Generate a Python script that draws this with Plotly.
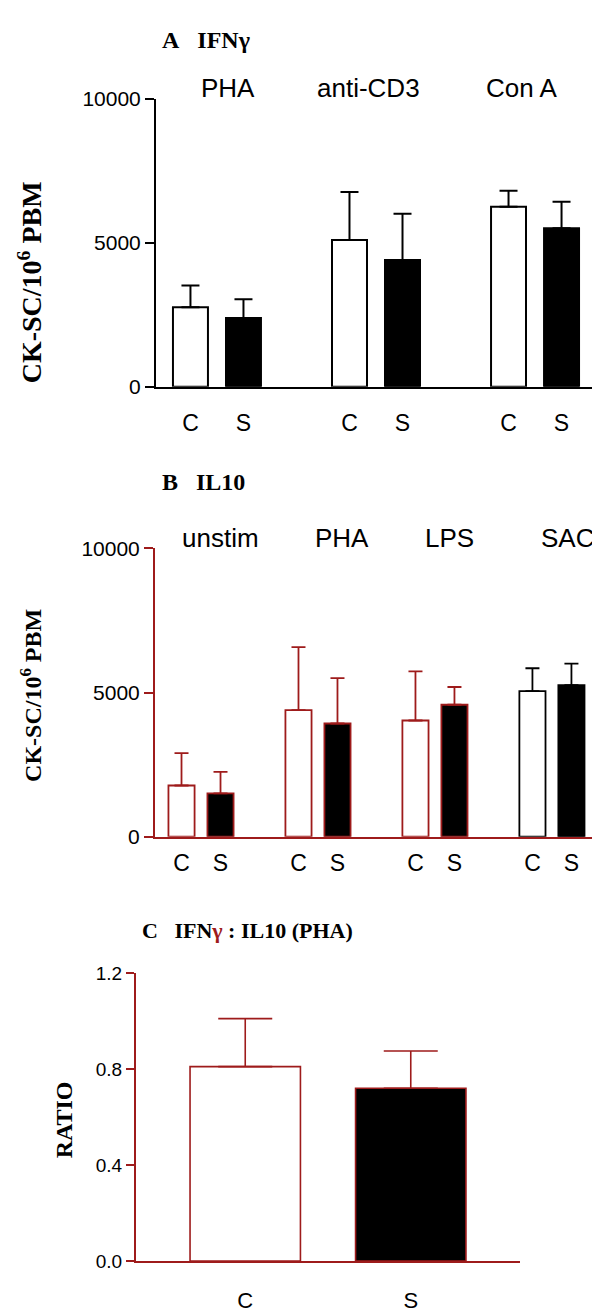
import plotly.graph_objects as go

# ---------------- data ----------------
bar_labels = ["C", "S"]

a_groups = ["PHA", "anti-CD3", "Con A"]
a_ctrl_mean = [2760, 5090, 6250]
a_ctrl_sem = [750, 1670, 550]
a_scz_mean = [2390, 4400, 5500]
a_scz_sem = [650, 1600, 920]

b_groups = ["unstim", "PHA", "LPS", "SAC"]
b_ctrl_mean = [1775, 4390, 4030, 5050]
b_ctrl_sem = [1125, 2180, 1700, 790]
b_scz_mean = [1500, 3925, 4575, 5255]
b_scz_sem = [750, 1570, 615, 745]

c_mean = [0.81, 0.72]
c_sem = [0.20, 0.155]

# ---------------- styles / layout ----------------
W, H = 600, 1312
RED = "#9E1B1B"
BLACK = "#000000"
SANS = "Liberation Sans, Arial, sans-serif"
SERIF = "Liberation Serif, Times New Roman, serif"


def px(xp):
    return xp / W


def py(yp):
    return 1 - yp / H


fig = go.Figure()


def add_pair(xa, ya, g, cm, cs, sm, ss, lcol, bw, lw, capw, thick):
    base = 3 * g
    for j, (m, s, fill) in enumerate([(cm, cs, "white"), (sm, ss, "black")]):
        fig.add_trace(go.Bar(
            x=[base + j], y=[m], width=bw, xaxis=xa, yaxis=ya,
            marker=dict(color=fill, line=dict(color=lcol, width=lw)),
            error_y=dict(type="data", array=[s], arrayminus=[0], symmetric=False,
                         color=lcol, thickness=thick, width=capw),
            showlegend=False, hoverinfo="skip",
        ))


# Panel A
for g in range(len(a_groups)):
    add_pair("x", "y", g, a_ctrl_mean[g], a_ctrl_sem[g], a_scz_mean[g], a_scz_sem[g],
             BLACK, 0.66, 2, 9, 2)

# Panel B
b_line_colors = [RED, RED, RED, BLACK]
for g in range(len(b_groups)):
    add_pair("x2", "y2", g, b_ctrl_mean[g], b_ctrl_sem[g], b_scz_mean[g], b_scz_sem[g],
             b_line_colors[g], 0.67, 1.8, 7, 1.8)

# Panel C
for j, fill in enumerate(["white", "black"]):
    fig.add_trace(go.Bar(
        x=[j], y=[c_mean[j]], width=0.667, xaxis="x3", yaxis="y3",
        marker=dict(color=fill, line=dict(color=RED, width=1.6)),
        error_y=dict(type="data", array=[c_sem[j]], arrayminus=[0], symmetric=False,
                     color=RED, thickness=1.6, width=27),
        showlegend=False, hoverinfo="skip",
    ))

a_tickvals = [3 * g + j for g in range(len(a_groups)) for j in range(2)]
b_tickvals = [3 * g + j for g in range(len(b_groups)) for j in range(2)]


def xaxis(dom, rng, tv, tt, col, standoff, fs, anchor):
    return dict(domain=dom, range=rng, tickvals=tv, ticktext=tt, showline=True,
                linecolor=col, linewidth=2, ticks="", showgrid=False, zeroline=False,
                tickfont=dict(family=SANS, size=fs, color="black"),
                ticklabelstandoff=standoff, anchor=anchor, fixedrange=True)


def yaxis(dom, rng, tv, col, fs, anchor, fmt, ticklen=9):
    return dict(domain=dom, range=rng, tickvals=tv, showline=True, linecolor=col,
                linewidth=2, ticks="outside", ticklen=ticklen, tickwidth=2, tickcolor=col,
                showgrid=False, zeroline=False, tickformat=fmt,
                tickfont=dict(family=SANS, size=fs, color="black"),
                anchor=anchor, fixedrange=True, ticklabelstandoff=0)


fig.update_layout(
    width=W, height=H, autosize=False,
    margin=dict(l=0, r=0, t=0, b=0),
    paper_bgcolor="white", plot_bgcolor="white",
    barmode="overlay",
    xaxis=xaxis([px(148), px(588)], [-0.65, 7.65], a_tickvals, bar_labels * 3, BLACK, 15, 23, "y"),
    yaxis=yaxis([py(373.3), py(80)], [0, 10000], [0, 5000, 10000], BLACK, 21, "x", "d"),
    xaxis2=xaxis([px(147), px(588)], [-0.68, 10.63], b_tickvals, bar_labels * 4, RED, 5, 23, "y2"),
    yaxis2=yaxis([py(831.3), py(537.7)], [0, 10000], [0, 5000, 10000], RED, 21, "x2", "d"),
    xaxis3=xaxis([px(128), px(512)], [-0.66, 1.66], [0, 1], bar_labels, RED, 18, 22, "y3"),
    yaxis3=yaxis([py(1263.3), py(970)], [0, 1.2], [0, 0.4, 0.8, 1.2], RED, 19, "x3", ".1f", 8),
)

ann = []
# group labels panel A
a_label_pos = [0.71, 3.35, 6.25]
for lab, xv in zip(a_groups, a_label_pos):
    ann.append(dict(text=lab, x=xv, xref="x", y=py(69), yref="paper", showarrow=False,
                    xanchor="center", yanchor="middle",
                    font=dict(family=SANS, size=26, color="black")))
b_label_pos = [1.01, 4.12, 6.86, 9.9]
for lab, xv in zip(b_groups, b_label_pos):
    ann.append(dict(text=lab, x=xv, xref="x2", y=py(527), yref="paper", showarrow=False,
                    xanchor="center", yanchor="middle",
                    font=dict(family=SANS, size=26, color="black")))

NB = "\u00a0"
# panel titles
ann.append(dict(text="<b>A" + NB * 3 + "IFNγ</b>", x=px(152), y=py(20), xref="paper", yref="paper",
                showarrow=False, xanchor="left", yanchor="middle",
                font=dict(family=SERIF, size=24, color="black")))
ann.append(dict(text="<b>B" + NB * 3 + "IL10</b>", x=px(152), y=py(470), xref="paper", yref="paper",
                showarrow=False, xanchor="left", yanchor="middle",
                font=dict(family=SERIF, size=24, color="black")))
ann.append(dict(text="<b>C" + NB * 3 + "IFN<span style='color:" + RED + "'>γ</span> : IL10 (PHA)</b>",
                x=px(132), y=py(927), xref="paper", yref="paper",
                showarrow=False, xanchor="left", yanchor="middle",
                font=dict(family=SERIF, size=22, color="black")))

# y-axis titles
ann.append(dict(text="<b>CK-SC/10<sup>6</sup> PBM</b>", x=px(22), y=py(267), xref="paper", yref="paper",
                showarrow=False, textangle=-90, xanchor="center", yanchor="middle",
                font=dict(family=SERIF, size=28, color="black")))
ann.append(dict(text="<b>CK-SC/10<sup>6</sup> PBM</b>", x=px(23), y=py(688), xref="paper", yref="paper",
                showarrow=False, textangle=-90, xanchor="center", yanchor="middle",
                font=dict(family=SERIF, size=24, color="black")))
ann.append(dict(text="<b>RATIO</b>", x=px(56), y=py(1120), xref="paper", yref="paper",
                showarrow=False, textangle=-90, xanchor="center", yanchor="middle",
                font=dict(family=SERIF, size=24, color="black")))

fig.update_layout(annotations=ann)

fig.write_html("out.html")
